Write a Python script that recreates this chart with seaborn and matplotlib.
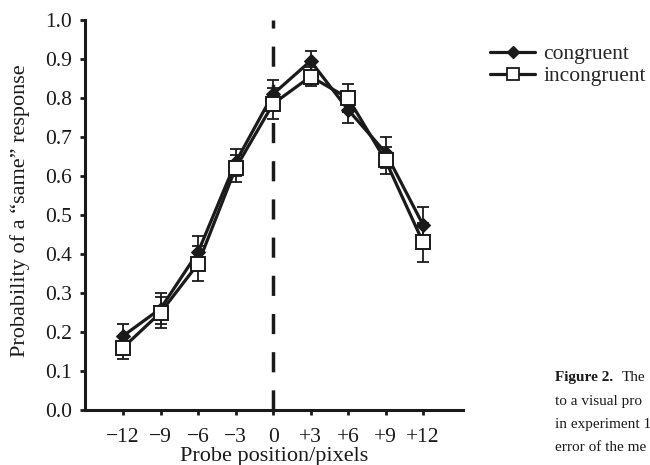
import matplotlib
matplotlib.use("Agg")
import matplotlib.pyplot as plt
import seaborn as sns
import pandas as pd
from matplotlib.lines import Line2D

positions = [-12, -9, -6, -3, 0, 3, 6, 9, 12]
tick_labels = ["\u221212", "\u22129", "\u22126", "\u22123", "0", "+3", "+6", "+9", "+12"]
congruent = [0.19, 0.26, 0.405, 0.635, 0.81, 0.895, 0.77, 0.66, 0.475]
congruent_err = [0.03, 0.04, 0.04, 0.035, 0.035, 0.025, 0.035, 0.04, 0.045]
incongruent = [0.16, 0.25, 0.375, 0.62, 0.785, 0.855, 0.80, 0.64, 0.43]
incongruent_err = [0.03, 0.04, 0.045, 0.035, 0.04, 0.025, 0.035, 0.035, 0.05]

sns.set_style("ticks")
plt.rcParams['font.family'] = ['Liberation Serif', 'DejaVu Serif']
plt.rcParams['font.size'] = 16

fig = plt.figure(figsize=(6.5, 4.65), dpi=100)
ax = fig.add_axes([85/650, 1-410/465, (463-85)/650, 390/465])

df_c = pd.DataFrame({"x": positions, "y": congruent})
df_i = pd.DataFrame({"x": positions, "y": incongruent})

ax.axvline(0, color="#1a1a1a", lw=2.5, ls=(0, (5.8, 5.2)), zorder=1)

ax.errorbar(positions, congruent, yerr=congruent_err, fmt="none", ecolor="#1a1a1a",
            elinewidth=1.3, capsize=4, capthick=1.3, zorder=2)
sns.lineplot(data=df_c, x="x", y="y", ax=ax, color="#1a1a1a", lw=2.3,
             marker="D", markersize=7, markerfacecolor="#1a1a1a",
             markeredgecolor="#1a1a1a", zorder=3)
ax.errorbar(positions, incongruent, yerr=incongruent_err, fmt="none", ecolor="#1a1a1a",
            elinewidth=1.3, capsize=4, capthick=1.3, zorder=4)
sns.lineplot(data=df_i, x="x", y="y", ax=ax, color="#1a1a1a", lw=2.3,
             marker="s", markersize=9.5, markerfacecolor="white",
             markeredgecolor="#1a1a1a", markeredgewidth=1.4, zorder=5)

ax.set_xlim(-15.05, 15.2)
ax.set_ylim(0, 1.0)
ax.set_xticks(positions)
ax.set_xticklabels(tick_labels)
ax.set_yticks([i/10 for i in range(11)])
ax.set_yticklabels([f"{i/10:.1f}" for i in range(11)])
for s in ["top", "right"]:
    ax.spines[s].set_visible(False)
for s in ["left", "bottom"]:
    ax.spines[s].set_linewidth(2.2)
    ax.spines[s].set_color("#1a1a1a")
ax.tick_params(axis="both", width=2, length=3.6, color="#1a1a1a", labelsize=15.5,
               labelcolor="#1a1a1a")
ax.tick_params(axis="y", pad=5.5)
ax.tick_params(axis="x", pad=9.5)
ax.set_xlabel("Probe position/pixels", fontsize=16, labelpad=0, color="#1a1a1a")
ax.set_ylabel("Probability of a \u201csame\u201d response", fontsize=16, color="#1a1a1a")
ax.yaxis.set_label_coords(-0.145, 0.51)

handles = [
    Line2D([], [], color="#1a1a1a", lw=2.3, marker="D", markersize=6,
           markerfacecolor="#1a1a1a"),
    Line2D([], [], color="#1a1a1a", lw=2.3, marker="s", markersize=9,
           markerfacecolor="white", markeredgewidth=1.3),
]
fig.legend(handles, ["congruent", "incongruent"], loc="upper left",
           bbox_to_anchor=(490/650, 1-44/465), frameon=False, fontsize=15.5,
           handlelength=2.1, handletextpad=0.37, labelspacing=0.1,
           borderpad=0, borderaxespad=0)

fs_cap = 11
fig.text(555/650, 1-377/465, "Figure 2.", fontsize=fs_cap, fontweight="bold",
         va="center", color="#1a1a1a")
fig.text(622/650, 1-377/465, "The", fontsize=fs_cap, va="center", color="#1a1a1a")
fig.text(555/650, 1-401/465, "to a visual pro", fontsize=fs_cap, va="center", color="#1a1a1a")
fig.text(555/650, 1-424/465, "in experiment 1", fontsize=fs_cap, va="center", color="#1a1a1a")
fig.text(555/650, 1-447/465, "error of the me", fontsize=fs_cap, va="center", color="#1a1a1a")

fig.savefig("out.png", dpi=100)
